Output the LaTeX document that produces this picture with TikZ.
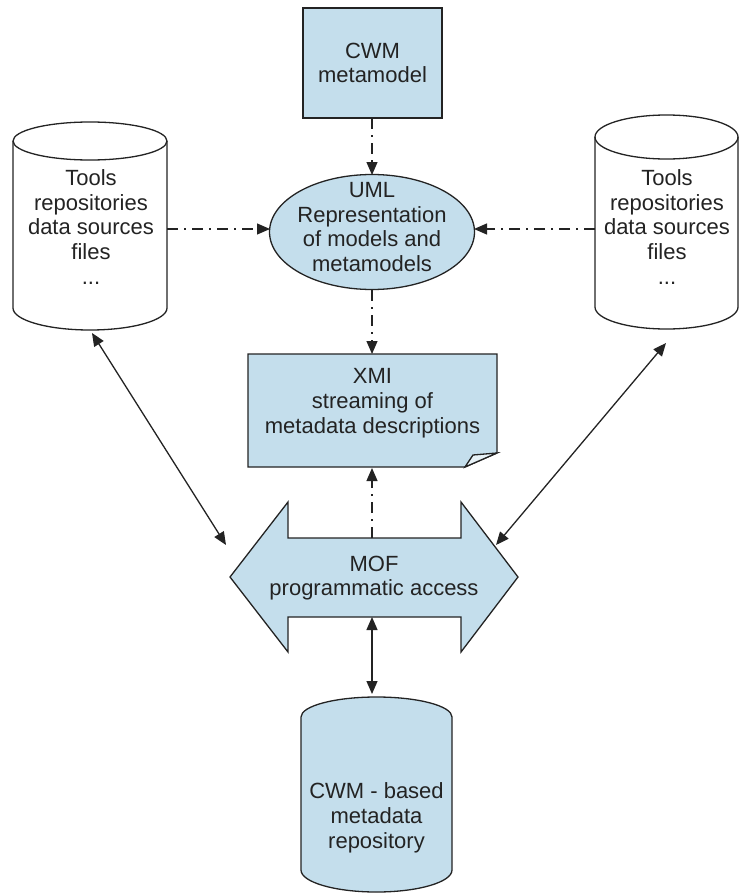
\documentclass[tikz,border=0pt]{standalone}
\usepackage{fontspec}
\setmainfont{Liberation Sans}
\usetikzlibrary{arrows.meta,shapes.geometric}
\definecolor{boxblue}{RGB}{196,222,236}
\definecolor{ink}{RGB}{35,35,35}
\begin{document}
\begin{tikzpicture}[x=1pt,y=-1pt,
  txt/.style={font=\fontsize{22}{24.8}\selectfont, text=ink, align=center, inner sep=0pt},
  shapeline/.style={draw=ink, line width=1.3pt, line join=miter},
  dashdot/.style={draw=ink, line width=1.2pt, dash pattern=on 11pt off 6pt on 2pt off 6pt},
  tip/.style={-{Triangle[length=13pt,width=11pt]}},
  tips/.style={{Triangle[length=13pt,width=11pt]}-{Triangle[length=13pt,width=11pt]}},
  solidarrow/.style={draw=ink, line width=1.3pt}]
\useasboundingbox (0,0) rectangle (740,894);

% CWM metamodel box
\node[shapeline, fill=boxblue, minimum width=139pt, minimum height=110pt, txt] (cwm) at (372.5,63) {CWM\\metamodel};

% UML ellipse
\node[ellipse, shapeline, fill=boxblue, minimum width=205pt, minimum height=115pt, inner sep=0pt] (uml) at (372,232) {};
\node[txt] (umltext) at (372,227) {UML\\Representation\\of models and\\metamodels};

% left cylinder
\path[shapeline, fill=white] (13,141) -- (13,308) arc[start angle=180, end angle=0, x radius=77, y radius=22]
  -- (167,141) arc[start angle=0, end angle=-180, x radius=77, y radius=19] -- cycle;
\draw[shapeline] (13,141) arc[start angle=180, end angle=0, x radius=77, y radius=19];
\node[txt] (ltools) at (91,227) {Tools\\repositories\\data sources\\files\\...};

% right cylinder
\path[shapeline, fill=white] (595,137) -- (595,307) arc[start angle=180, end angle=0, x radius=71.5, y radius=22]
  -- (738,137) arc[start angle=0, end angle=-180, x radius=71.5, y radius=22] -- cycle;
\draw[shapeline] (595,137) arc[start angle=180, end angle=0, x radius=71.5, y radius=22];
\node[txt] (rtools) at (667,227) {Tools\\repositories\\data sources\\files\\...};

% XMI note
\path[shapeline, fill=boxblue] (248,354) -- (497,354) -- (497,453) -- (465,467) -- (248,467) -- cycle;
\path[shapeline, fill=boxblue!40!white] (465,467) -- (473,455) -- (497,453) -- cycle;
\node[txt] (xmi) at (372.5,403) {XMI\\streaming of\\metadata descriptions};

% MOF double arrow
\path[shapeline, fill=boxblue] (230,577) -- (288,502) -- (288,538) -- (461,538) -- (461,502) -- (518,577)
  -- (461,652) -- (461,617) -- (288,617) -- (288,652) -- cycle;
\node[txt] (mof) at (374,578) {MOF\\programmatic access};

% repository cylinder
\path[shapeline, fill=boxblue] (301,717) -- (301,870) arc[start angle=180, end angle=0, x radius=75.5, y radius=22]
  -- (452,717) arc[start angle=0, end angle=-180, x radius=75.5, y radius=20] -- cycle;
\node[txt] (repo) at (376.5,818) {CWM - based\\metadata\\repository};

% connector end points
\coordinate (cwmB) at (372,118);
\coordinate (umlT) at (372,175);
\coordinate (umlW) at (270,229);
\coordinate (umlE) at (474,229);
\coordinate (umlB) at (372,290);
\coordinate (lcylR) at (167,229);
\coordinate (rcylL) at (595,229);
\coordinate (lcylB) at (92,333);
\coordinate (rcylB) at (666,343);
\coordinate (xmiT) at (372,354);
\coordinate (xmiB) at (372,468);
\coordinate (mofT) at (372,538);
\coordinate (mofB) at (372,617);
\coordinate (mofL) at (226,545);
\coordinate (mofR) at (496,545);
\coordinate (repoT) at (372,694);

% connectors
\draw[dashdot, tip] (cwmB) -- (umlT);
\draw[dashdot, tip] (lcylR) -- (umlW);
\draw[dashdot, tip] (rcylL) -- (umlE);
\draw[dashdot, tip] (umlB) -- (xmiT);
\draw[dashdot, tip] (mofT) -- (xmiB);
\draw[solidarrow, tips] (mofB) -- (repoT);
\draw[solidarrow, tips] (lcylB) -- (mofL);
\draw[solidarrow, tips] (rcylB) -- (mofR);
\end{tikzpicture}
\end{document}
